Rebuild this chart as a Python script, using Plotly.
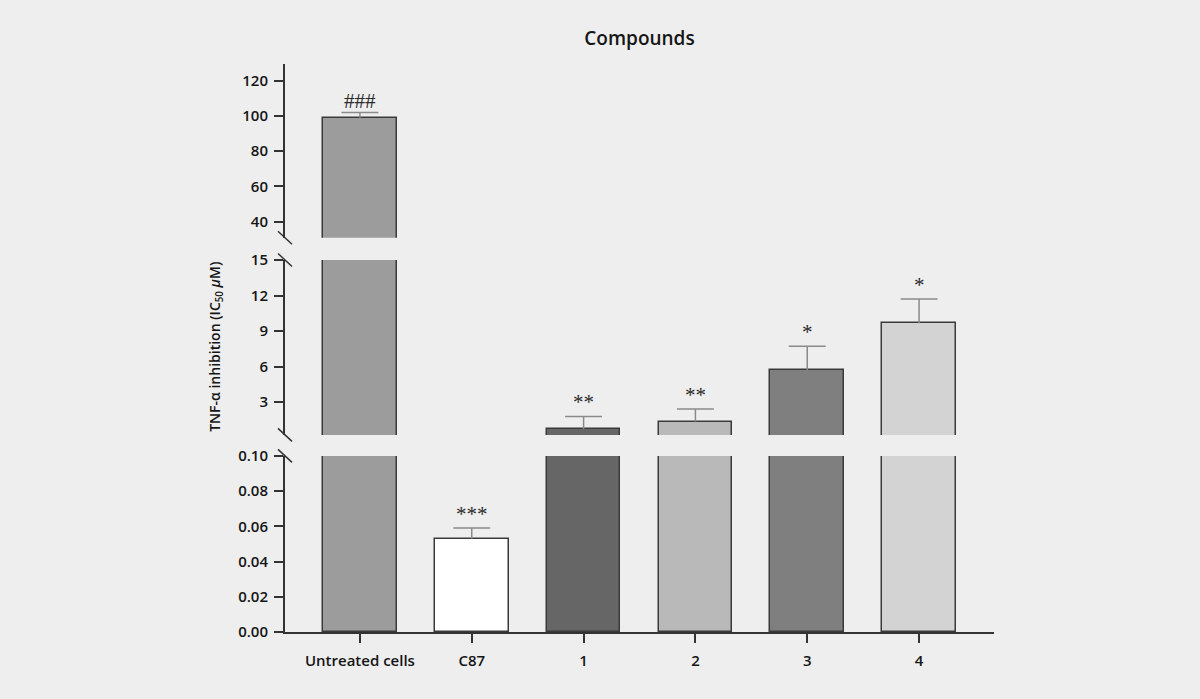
import plotly.graph_objects as go

# values (IC50, uM)
categories = ['Untreated cells', 'C87', '1', '2', '3', '4']
means = [99.0, 0.053, 0.72, 1.37, 5.70, 9.66]
errors = [3.0, 0.006, 1.08, 1.06, 2.02, 2.05]
signif = ['###', '***', '**', '**', '*', '*']
colors = ['#9c9c9c', '#ffffff', '#666666', '#b9b9b9', '#7f7f7f', '#d3d3d3']

bottom_ticks = [0, 0.02, 0.04, 0.06, 0.08, 0.10]
middle_ticks = [3, 6, 9, 12, 15]
top_ticks = [40, 60, 80, 100, 120]

AXIS_COLOR = '#333333'
BG = '#eeeeee'
FONT = 'Open Sans'
TXT = dict(family=FONT, size=15, color='#151515', weight=600)

# broken y axis: three stacked segments sharing one x axis
segments = [
    dict(name='y', rng=[0, 0.10], domain=[0.0, 0.31], ticks=bottom_ticks, fmt='.2f'),
    dict(name='y2', rng=[0.24, 15], domain=[0.347, 0.655], ticks=middle_ticks, fmt='d'),
    dict(name='y3', rng=[30.75, 129.5], domain=[0.694, 1.0], ticks=top_ticks, fmt='d'),
]

xpos = list(range(len(categories)))
cap = 0.165

# error bars (upper only) as line segments
err_x, err_y = [], []
for i, (m, e) in enumerate(zip(means, errors)):
    err_x += [i, i, None, i - cap, i + cap, None]
    err_y += [m, m + e, None, m + e, m + e, None]

fig = go.Figure()

for seg in segments:
    fig.add_trace(go.Bar(
        x=xpos, y=means, width=0.66,
        marker=dict(color=colors, line=dict(color='#3a3a3a', width=1.5)),
        xaxis='x', yaxis=seg['name'], showlegend=False,
    ))
    fig.add_trace(go.Scatter(
        x=err_x, y=err_y, mode='lines',
        line=dict(color='#8a8a8a', width=1.5),
        xaxis='x', yaxis=seg['name'], showlegend=False, hoverinfo='skip',
    ))

annotations = []
for i, (m, e, s) in enumerate(zip(means, errors, signif)):
    top = m + e
    if top > segments[2]['rng'][0]:
        ref = 'y3'
    elif top > segments[1]['rng'][0]:
        ref = 'y2'
    else:
        ref = 'y'
    annotations.append(dict(
        x=i, y=top, xref='x', yref=ref, text=s, showarrow=False,
        yanchor='bottom', yshift=-3 if s.startswith('#') else 0,
        font=dict(family='Liberation Serif', size=21, color='#2a2a2a'),
    ))

annotations.append(dict(
    x=-0.115, y=0.502, xref='paper', yref='paper',
    text='TNF-α inhibition (IC<sub>50</sub> <i>μ</i>M)', textangle=-90,
    showarrow=False, font=dict(TXT, size=14),
))

# break marks at the ends of each axis segment
shapes = []
for k, seg in enumerate(segments):
    ends = []
    if k > 0:
        ends.append(seg['domain'][0])
    if k < len(segments) - 1:
        ends.append(seg['domain'][1])
    for yy in ends:
        shapes.append(dict(
            type='line', xref='paper', yref='paper',
            xsizemode='pixel', ysizemode='pixel', xanchor=0, yanchor=yy,
            x0=-7, x1=7, y0=6.5, y1=-6.5,
            line=dict(color=AXIS_COLOR, width=1.5),
        ))

layout = dict(
    width=1200, height=699,
    margin=dict(l=285, r=206, t=64, b=67),
    paper_bgcolor=BG, plot_bgcolor=BG,
    bargap=0,
    title=dict(text='Compounds', x=0.5, xref='paper', y=1 - 38 / 699,
               yref='container', yanchor='middle',
               font=dict(TXT, size=19)),
    xaxis=dict(
        range=[-0.67, 5.67], tickvals=xpos, ticktext=categories,
        showline=True, linecolor=AXIS_COLOR, linewidth=2,
        ticks='outside', ticklen=9, tickwidth=1.5, tickcolor=AXIS_COLOR,
        showgrid=False, zeroline=False, anchor='y',
        ticklabelstandoff=5,
        tickfont=TXT,
    ),
    annotations=annotations,
    shapes=shapes,
)

for seg in segments:
    key = 'yaxis' if seg['name'] == 'y' else 'yaxis' + seg['name'][1:]
    layout[key] = dict(
        domain=seg['domain'], range=seg['rng'], anchor='x',
        tickvals=seg['ticks'], tickformat=seg['fmt'],
        showline=True, linecolor=AXIS_COLOR, linewidth=2,
        ticks='outside', ticklen=9, tickwidth=1.5, tickcolor=AXIS_COLOR,
        showgrid=False, zeroline=False, ticklabelstandoff=3,
        tickfont=TXT,
    )

fig.update_layout(**layout)
fig.write_html('out.html', config={'displayModeBar': False},
               post_script="document.body.style.margin='0';")
